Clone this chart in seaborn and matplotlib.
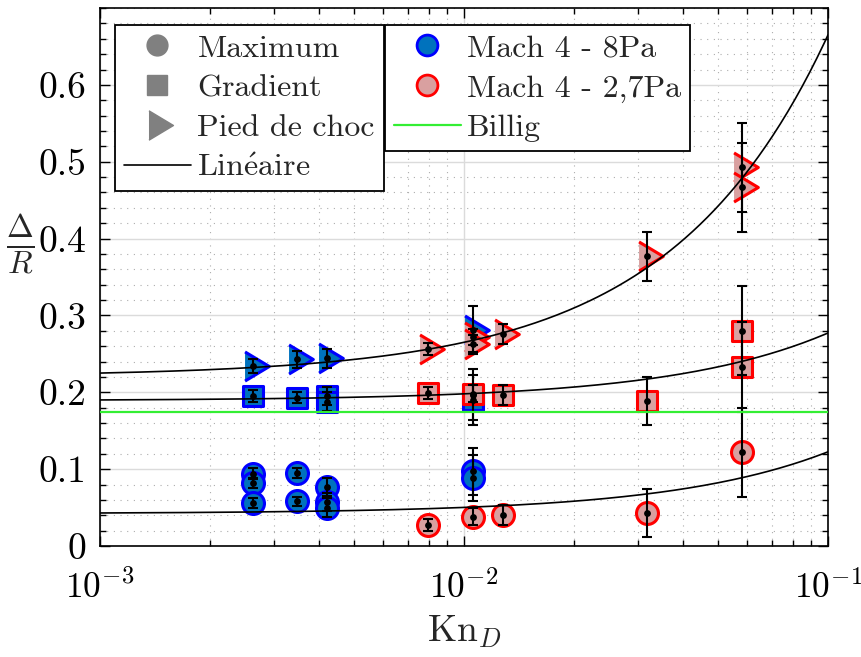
import numpy as np
import pandas as pd
import seaborn as sns
import matplotlib.pyplot as plt
from matplotlib.lines import Line2D
from matplotlib.ticker import MultipleLocator, NullFormatter

# ---- data ----
# Mach 4 - 8Pa (blue)
kn_max_8 = [0.00263, 0.00263, 0.00263, 0.00348, 0.00348, 0.0042, 0.0042, 0.0042, 0.0106, 0.0106]
max_8 = [0.094, 0.082, 0.056, 0.095, 0.058, 0.077, 0.057, 0.050, 0.097, 0.089]
err_max_8 = [0.007, 0.007, 0.007, 0.006, 0.006, 0.012, 0.012, 0.012, 0.03, 0.03]

kn_grad_8 = [0.00263, 0.00348, 0.0042, 0.0042, 0.0106, 0.0106]
grad_8 = [0.195, 0.193, 0.195, 0.188, 0.197, 0.190]
err_grad_8 = [0.008, 0.007, 0.012, 0.012, 0.033, 0.033]

kn_pied_8 = [0.00263, 0.00348, 0.0042, 0.0106]
pied_8 = [0.234, 0.243, 0.244, 0.281]
err_pied_8 = [0.009, 0.011, 0.012, 0.031]

# Mach 4 - 2,7Pa (red)
kn_max_27 = [0.00796, 0.0106, 0.0128, 0.0319, 0.0581]
max_27 = [0.027, 0.038, 0.041, 0.043, 0.122]
err_max_27 = [0.008, 0.011, 0.013, 0.031, 0.058]

kn_grad_27 = [0.00796, 0.0106, 0.0128, 0.0319, 0.0581, 0.0581]
grad_27 = [0.199, 0.198, 0.197, 0.189, 0.280, 0.233]
err_grad_27 = [0.008, 0.011, 0.013, 0.031, 0.058, 0.058]

kn_pied_27 = [0.00796, 0.0106, 0.0106, 0.0128, 0.0319, 0.0581, 0.0581]
pied_27 = [0.256, 0.272, 0.263, 0.276, 0.377, 0.493, 0.467]
err_pied_27 = [0.008, 0.011, 0.011, 0.013, 0.032, 0.058, 0.058]

# linear fits  delta/R = a + b*Kn  (intercept, slope)
fit_max = (0.0422, 0.804)
fit_grad = (0.1892, 0.88)
fit_pied = (0.2206, 4.444)

billig = 0.175

# ---- style ----
sns.set_style("ticks")
plt.rcParams['font.family'] = ['cmr10', 'DejaVu Serif']
plt.rcParams['mathtext.fontset'] = 'cm'
plt.rcParams['axes.formatter.use_mathtext'] = True
plt.rcParams['axes.unicode_minus'] = False

blue_face, blue_edge = '#0072BD', '#0000FF'
red_face, red_edge = '#D9A0A0', '#FF0000'
tri = [(-8.7, -15), (16.3, 0), (-8.7, 15)]

fig, ax = plt.subplots(figsize=(8.61, 6.57), dpi=100)
fig.subplots_adjust(left=0.1161, right=0.9617, bottom=0.1689, top=0.9878)


def draw(kn, val, err, marker, size, face, edge):
    df = pd.DataFrame({'kn': kn, 'val': val})
    sns.scatterplot(data=df, x='kn', y='val', marker=marker, s=size, color=face,
                    edgecolor=edge, linewidth=2.2, ax=ax, zorder=2, legend=False)
    ax.errorbar(kn, val, yerr=err, fmt='none', ecolor='k', elinewidth=1.5,
                capsize=3.8, capthick=1.5, zorder=3)
    sns.scatterplot(data=df, x='kn', y='val', marker='o', s=24, color='k',
                    linewidth=0, ax=ax, zorder=4, legend=False)


draw(kn_max_8, max_8, err_max_8, 'o', 250, blue_face, blue_edge)
draw(kn_grad_8, grad_8, err_grad_8, 's', 220, blue_face, blue_edge)
draw(kn_pied_8, pied_8, err_pied_8, tri, 520, blue_face, blue_edge)
draw(kn_max_27, max_27, err_max_27, 'o', 250, red_face, red_edge)
draw(kn_grad_27, grad_27, err_grad_27, 's', 220, red_face, red_edge)
draw(kn_pied_27, pied_27, err_pied_27, tri, 520, red_face, red_edge)

kn_line = np.geomspace(1e-3, 1e-1, 200)
for a, b in (fit_max, fit_grad, fit_pied):
    sns.lineplot(x=kn_line, y=a + b * kn_line, color='k', lw=1.2, ax=ax, zorder=3)

ax.axhline(billig, color='#33EE33', lw=1.6, zorder=3)

# ---- axes ----
ax.set_xscale('log')
ax.set_xlim(1e-3, 1e-1)
ax.set_ylim(0, 0.7)
ax.set_xticks([1e-3, 1e-2, 1e-1])
ax.set_xticklabels([r'$10^{-3}$', r'$10^{-2}$', r'$10^{-1}$'])
ax.set_yticks([0, 0.1, 0.2, 0.3, 0.4, 0.5, 0.6])
ax.set_yticklabels(['0', '0.1', '0.2', '0.3', '0.4', '0.5', '0.6'])
ax.yaxis.set_minor_locator(MultipleLocator(0.02))
ax.xaxis.set_minor_formatter(NullFormatter())
ax.tick_params(which='both', direction='in', top=True, right=True, colors='k', width=1)
ax.tick_params(which='major', length=7)
ax.tick_params(axis='x', which='major', pad=17, labelsize=25.5)
ax.tick_params(axis='y', which='major', pad=10, labelsize=27)
ax.tick_params(which='minor', length=4)
for s in ax.spines.values():
    s.set_linewidth(1.2)
    s.set_color('k')

ax.grid(which='major', color='0.86', lw=1.0, ls='-')
ax.grid(which='minor', color='0.68', lw=0.8, ls=(0, (1, 5)))
ax.set_axisbelow(True)

ax.set_xlabel(r'Kn$_D$', fontsize=27)
ax.xaxis.set_label_coords(0.5, -0.125)
ax.set_ylabel(r'$\frac{\Delta}{R}$', fontsize=33, rotation=0)
ax.yaxis.set_label_coords(-0.11, 0.5)

# ---- legends ----
gray = '0.5'
h1 = [Line2D([], [], ls='none', marker='o', ms=15, color=gray, mec=gray),
      Line2D([], [], ls='none', marker='s', ms=14, color=gray, mec=gray),
      Line2D([], [], ls='none', marker=tri, ms=23, color=gray, mec=gray),
      Line2D([], [], color='k', lw=1.2)]
l1 = ax.legend(h1, ['Maximum', 'Gradient', 'Pied de choc', r'Lin$\mathrm{\acute{e}}$aire'],
               loc='upper left', bbox_to_anchor=(0.0206, 0.968), borderaxespad=0,
               fontsize=23, frameon=True, fancybox=False, framealpha=1,
               edgecolor='k', handlelength=2.1, handletextpad=0.2,
               labelspacing=0.36, borderpad=0.28)
l1.get_frame().set_linewidth(1.3)
ax.add_artist(l1)

h2 = [Line2D([], [], ls='none', marker='o', ms=15, mfc=blue_face, mec=blue_edge, mew=2),
      Line2D([], [], ls='none', marker='o', ms=15, mfc=red_face, mec=red_edge, mew=2),
      Line2D([], [], color='#33EE33', lw=1.6)]
l2 = ax.legend(h2, ['Mach 4 - 8Pa', 'Mach 4 - 2,7Pa', 'Billig'],
               loc='upper left', bbox_to_anchor=(0.3915, 0.968), borderaxespad=0,
               fontsize=23, frameon=True, fancybox=False, framealpha=1,
               edgecolor='k', handlelength=2.1, handletextpad=0.2,
               labelspacing=0.36, borderpad=0.28)
l2.get_frame().set_linewidth(1.3)

fig.savefig('out.png', dpi=100)
